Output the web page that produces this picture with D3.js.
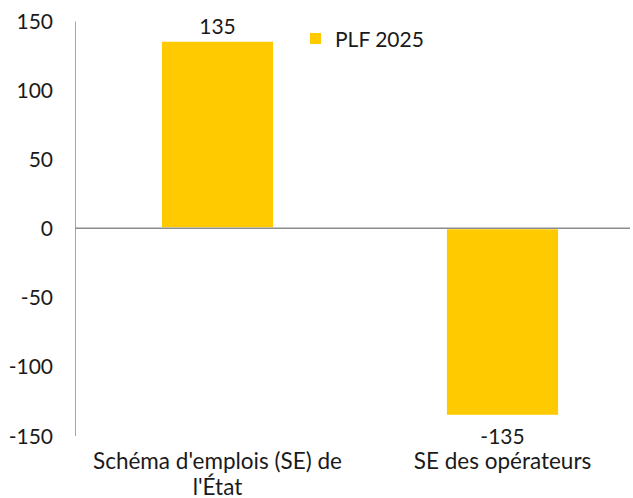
<!DOCTYPE html>
<html><head><meta charset="utf-8">
<script src="https://cdn.jsdelivr.net/npm/d3@7"></script>
<style>body{margin:0;background:#fff}svg{display:block}text{font-family:Lato,"Open Sans",sans-serif;fill:#1a1a1a}</style>
</head><body>
<svg id="c" width="633" height="498"></svg>
<script>
const categories = [["Schéma d'emplois (SE) de", "l'État"], ["SE des opérateurs"]];
const values = [135, -135];
const seriesName = "PLF 2025";
const yTicks = [-150, -100, -50, 0, 50, 100, 150];

const svg = d3.select("#c");
const color = "#FFCA00";
const y = d3.scaleLinear().domain([-150, 150]).range([435.5, 21]);
const x = d3.scaleBand().domain(d3.range(categories.length)).range([75, 645]).paddingInner(0.61).paddingOuter(0.305);

// y axis
const yAxis = d3.axisLeft(y).tickValues(yTicks).tickSize(0).tickPadding(22).tickFormat(d => String(d));
const ga = svg.append("g").attr("transform", "translate(75,0)").call(yAxis);
ga.select(".domain").attr("stroke", "#a6a6a6").attr("stroke-width", 1);
ga.selectAll("text").style("font-size", "21px").attr("dy", "0.36em").style("font-family", "Lato,sans-serif").attr("fill", "#1a1a1a");

// bars
svg.selectAll("rect.bar").data(values).join("rect").attr("class", "bar")
  .attr("x", (d, i) => x(i))
  .attr("width", x.bandwidth())
  .attr("y", d => d >= 0 ? y(d) : y(0) + 1)
  .attr("height", d => Math.abs(y(d) - y(0)) - 1)
  .attr("fill", color);

// zero line
svg.append("line").attr("x1", 75).attr("x2", 630).attr("y1", y(0)).attr("y2", y(0))
  .attr("stroke", "#8c8c8c").attr("stroke-width", 1.5);

// value labels
svg.selectAll("text.val").data(values).join("text").attr("class", "val")
  .attr("x", (d, i) => x(i) + x.bandwidth() / 2)
  .attr("y", d => d >= 0 ? y(d) - 8 : y(d) + 29.5)
  .attr("text-anchor", "middle").style("font-size", "21px")
  .text(d => d);

// category labels
categories.forEach((lines, i) => {
  const t = svg.append("text").attr("text-anchor", "middle").style("font-size", "22.5px")
    .attr("x", x(i) + x.bandwidth() / 2).attr("y", 469);
  lines.forEach((l, j) => t.append("tspan").attr("x", x(i) + x.bandwidth() / 2).attr("dy", j ? 25.5 : 0).text(l));
});

// legend
svg.append("rect").attr("x", 310).attr("y", 33).attr("width", 11).attr("height", 11).attr("fill", color);
svg.append("text").attr("x", 335).attr("y", 47).style("font-size", "21px").text(seriesName);
</script>
</body></html>
